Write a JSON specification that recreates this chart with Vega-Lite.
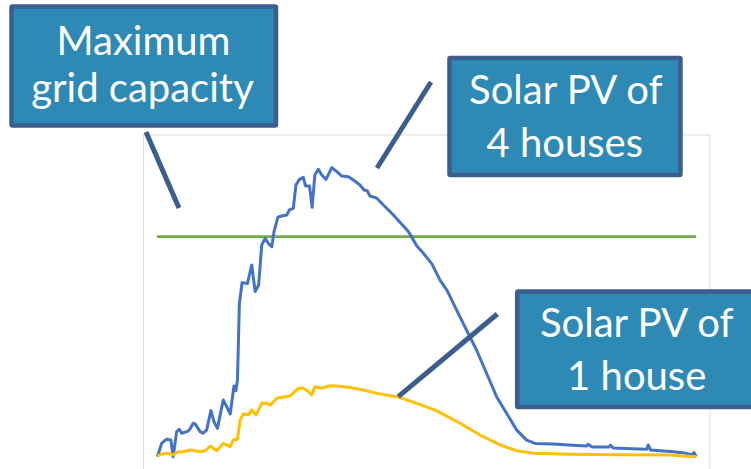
{
  "$schema": "https://vega.github.io/schema/vega-lite/v6.json",
  "width": 751,
  "height": 469,
  "autosize": {"type": "fit", "contains": "padding"},
  "padding": 0,
  "background": "white",
  "config": {"view": {"stroke": null}},
  "datasets": {
    "frame": [{"x": 5.649, "x2": 20.364, "y": 14.60, "y2": -1.5}],
    "capacity": [{"hour": 6.0, "hour2": 20.0, "kw": 10.0}],
    "pv": [
      {"series": "4 houses", "hour": 6.01, "kw": 0.06},
      {"series": "4 houses", "hour": 6.12, "kw": 0.66},
      {"series": "4 houses", "hour": 6.25, "kw": 0.85},
      {"series": "4 houses", "hour": 6.36, "kw": 0.81},
      {"series": "4 houses", "hour": 6.42, "kw": 0.06},
      {"series": "4 houses", "hour": 6.51, "kw": 1.19},
      {"series": "4 houses", "hour": 6.58, "kw": 1.30},
      {"series": "4 houses", "hour": 6.64, "kw": 1.12},
      {"series": "4 houses", "hour": 6.77, "kw": 1.19},
      {"series": "4 houses", "hour": 6.84, "kw": 1.27},
      {"series": "4 houses", "hour": 6.94, "kw": 1.57},
      {"series": "4 houses", "hour": 6.99, "kw": 1.54},
      {"series": "4 houses", "hour": 7.12, "kw": 1.19},
      {"series": "4 houses", "hour": 7.20, "kw": 1.12},
      {"series": "4 houses", "hour": 7.29, "kw": 1.27},
      {"series": "4 houses", "hour": 7.40, "kw": 2.14},
      {"series": "4 houses", "hour": 7.48, "kw": 1.64},
      {"series": "4 houses", "hour": 7.57, "kw": 1.34},
      {"series": "4 houses", "hour": 7.72, "kw": 2.62},
      {"series": "4 houses", "hour": 7.81, "kw": 2.32},
      {"series": "4 houses", "hour": 7.90, "kw": 1.99},
      {"series": "4 houses", "hour": 8.00, "kw": 3.25},
      {"series": "4 houses", "hour": 8.05, "kw": 3.04},
      {"series": "4 houses", "hour": 8.09, "kw": 3.53},
      {"series": "4 houses", "hour": 8.14, "kw": 6.99},
      {"series": "4 houses", "hour": 8.21, "kw": 7.92},
      {"series": "4 houses", "hour": 8.35, "kw": 7.89},
      {"series": "4 houses", "hour": 8.46, "kw": 8.72},
      {"series": "4 houses", "hour": 8.55, "kw": 7.52},
      {"series": "4 houses", "hour": 8.64, "kw": 7.82},
      {"series": "4 houses", "hour": 8.72, "kw": 9.63},
      {"series": "4 houses", "hour": 8.81, "kw": 9.93},
      {"series": "4 houses", "hour": 8.89, "kw": 9.70},
      {"series": "4 houses", "hour": 8.98, "kw": 9.55},
      {"series": "4 houses", "hour": 9.04, "kw": 10.23},
      {"series": "4 houses", "hour": 9.14, "kw": 10.88},
      {"series": "4 houses", "hour": 9.24, "kw": 10.94},
      {"series": "4 houses", "hour": 9.37, "kw": 10.98},
      {"series": "4 houses", "hour": 9.44, "kw": 11.21},
      {"series": "4 houses", "hour": 9.54, "kw": 11.28},
      {"series": "4 houses", "hour": 9.61, "kw": 12.34},
      {"series": "4 houses", "hour": 9.70, "kw": 12.59},
      {"series": "4 houses", "hour": 9.80, "kw": 12.68},
      {"series": "4 houses", "hour": 9.86, "kw": 12.29},
      {"series": "4 houses", "hour": 9.96, "kw": 12.29},
      {"series": "4 houses", "hour": 10.03, "kw": 11.33},
      {"series": "4 houses", "hour": 10.10, "kw": 12.79},
      {"series": "4 houses", "hour": 10.19, "kw": 13.05},
      {"series": "4 houses", "hour": 10.28, "kw": 12.79},
      {"series": "4 houses", "hour": 10.39, "kw": 12.59},
      {"series": "4 houses", "hour": 10.54, "kw": 13.12},
      {"series": "4 houses", "hour": 10.67, "kw": 12.94},
      {"series": "4 houses", "hour": 10.80, "kw": 12.74},
      {"series": "4 houses", "hour": 10.97, "kw": 12.71},
      {"series": "4 houses", "hour": 11.10, "kw": 12.56},
      {"series": "4 houses", "hour": 11.27, "kw": 12.34},
      {"series": "4 houses", "hour": 11.38, "kw": 12.11},
      {"series": "4 houses", "hour": 11.46, "kw": 12.08},
      {"series": "4 houses", "hour": 11.53, "kw": 11.84},
      {"series": "4 houses", "hour": 11.71, "kw": 11.74},
      {"series": "4 houses", "hour": 11.88, "kw": 11.43},
      {"series": "4 houses", "hour": 12.14, "kw": 10.98},
      {"series": "4 houses", "hour": 12.40, "kw": 10.48},
      {"series": "4 houses", "hour": 12.53, "kw": 10.23},
      {"series": "4 houses", "hour": 12.62, "kw": 9.97},
      {"series": "4 houses", "hour": 12.75, "kw": 9.58},
      {"series": "4 houses", "hour": 12.92, "kw": 9.25},
      {"series": "4 houses", "hour": 13.14, "kw": 8.77},
      {"series": "4 houses", "hour": 13.35, "kw": 8.04},
      {"series": "4 houses", "hour": 13.53, "kw": 7.59},
      {"series": "4 houses", "hour": 13.78, "kw": 6.69},
      {"series": "4 houses", "hour": 14.04, "kw": 5.78},
      {"series": "4 houses", "hour": 14.30, "kw": 4.88},
      {"series": "4 houses", "hour": 14.56, "kw": 3.83},
      {"series": "4 houses", "hour": 14.82, "kw": 2.77},
      {"series": "4 houses", "hour": 15.08, "kw": 2.02},
      {"series": "4 houses", "hour": 15.34, "kw": 1.27},
      {"series": "4 houses", "hour": 15.60, "kw": 0.81},
      {"series": "4 houses", "hour": 15.82, "kw": 0.66},
      {"series": "4 houses", "hour": 16.29, "kw": 0.63},
      {"series": "4 houses", "hour": 16.80, "kw": 0.58},
      {"series": "4 houses", "hour": 17.16, "kw": 0.54},
      {"series": "4 houses", "hour": 17.20, "kw": 0.62},
      {"series": "4 houses", "hour": 17.30, "kw": 0.50},
      {"series": "4 houses", "hour": 17.74, "kw": 0.50},
      {"series": "4 houses", "hour": 17.78, "kw": 0.58},
      {"series": "4 houses", "hour": 17.85, "kw": 0.45},
      {"series": "4 houses", "hour": 18.00, "kw": 0.44},
      {"series": "4 houses", "hour": 18.72, "kw": 0.39},
      {"series": "4 houses", "hour": 18.76, "kw": 0.59},
      {"series": "4 houses", "hour": 18.82, "kw": 0.36},
      {"series": "4 houses", "hour": 19.41, "kw": 0.28},
      {"series": "4 houses", "hour": 19.76, "kw": 0.21},
      {"series": "4 houses", "hour": 19.89, "kw": 0.14},
      {"series": "4 houses", "hour": 19.95, "kw": 0.24},
      {"series": "4 houses", "hour": 20.00, "kw": 0.06},
      {"series": "1 house", "hour": 6.01, "kw": 0.09},
      {"series": "1 house", "hour": 6.12, "kw": 0.18},
      {"series": "1 house", "hour": 6.29, "kw": 0.21},
      {"series": "1 house", "hour": 6.42, "kw": 0.14},
      {"series": "1 house", "hour": 6.55, "kw": 0.28},
      {"series": "1 house", "hour": 6.68, "kw": 0.28},
      {"series": "1 house", "hour": 6.86, "kw": 0.36},
      {"series": "1 house", "hour": 6.99, "kw": 0.33},
      {"series": "1 house", "hour": 7.12, "kw": 0.28},
      {"series": "1 house", "hour": 7.25, "kw": 0.33},
      {"series": "1 house", "hour": 7.39, "kw": 0.54},
      {"series": "1 house", "hour": 7.55, "kw": 0.33},
      {"series": "1 house", "hour": 7.72, "kw": 0.66},
      {"series": "1 house", "hour": 7.90, "kw": 0.51},
      {"series": "1 house", "hour": 7.98, "kw": 0.81},
      {"series": "1 house", "hour": 8.09, "kw": 0.85},
      {"series": "1 house", "hour": 8.16, "kw": 1.72},
      {"series": "1 house", "hour": 8.24, "kw": 1.99},
      {"series": "1 house", "hour": 8.39, "kw": 1.97},
      {"series": "1 house", "hour": 8.46, "kw": 2.17},
      {"series": "1 house", "hour": 8.57, "kw": 1.94},
      {"series": "1 house", "hour": 8.72, "kw": 2.47},
      {"series": "1 house", "hour": 8.85, "kw": 2.47},
      {"series": "1 house", "hour": 8.95, "kw": 2.39},
      {"series": "1 house", "hour": 9.11, "kw": 2.70},
      {"series": "1 house", "hour": 9.45, "kw": 2.80},
      {"series": "1 house", "hour": 9.67, "kw": 3.15},
      {"series": "1 house", "hour": 9.80, "kw": 3.15},
      {"series": "1 house", "hour": 9.93, "kw": 3.00},
      {"series": "1 house", "hour": 10.02, "kw": 2.85},
      {"series": "1 house", "hour": 10.10, "kw": 3.22},
      {"series": "1 house", "hour": 10.28, "kw": 3.15},
      {"series": "1 house", "hour": 10.49, "kw": 3.27},
      {"series": "1 house", "hour": 10.67, "kw": 3.25},
      {"series": "1 house", "hour": 11.01, "kw": 3.19},
      {"series": "1 house", "hour": 11.36, "kw": 3.07},
      {"series": "1 house", "hour": 11.71, "kw": 2.92},
      {"series": "1 house", "hour": 12.23, "kw": 2.77},
      {"series": "1 house", "hour": 12.75, "kw": 2.47},
      {"series": "1 house", "hour": 13.26, "kw": 2.14},
      {"series": "1 house", "hour": 13.87, "kw": 1.57},
      {"series": "1 house", "hour": 14.39, "kw": 1.04},
      {"series": "1 house", "hour": 14.91, "kw": 0.59},
      {"series": "1 house", "hour": 15.34, "kw": 0.33},
      {"series": "1 house", "hour": 15.77, "kw": 0.21},
      {"series": "1 house", "hour": 16.73, "kw": 0.17},
      {"series": "1 house", "hour": 18.00, "kw": 0.15},
      {"series": "1 house", "hour": 19.30, "kw": 0.14},
      {"series": "1 house", "hour": 20.00, "kw": 0.06}
    ],
    "pointers": [
      {"x": 5.714, "y": 14.731, "x2": 6.571, "y2": 11.297},
      {"x": 13.117, "y": 16.990, "x2": 11.714, "y2": 13.104},
      {"x": 14.839, "y": 6.507, "x2": 12.268, "y2": 2.770}
    ],
    "boxes": [
      {"x": 2.221, "x2": 9.091, "y": 20.402, "y2": 15.025},
      {"x": 13.597, "x2": 19.597, "y": 18.075, "y2": 12.788},
      {"x": 15.356, "x2": 21.662, "y": 7.524, "y2": 2.305}
    ],
    "labels": [
      {"label": "Maximum", "x": 5.649, "y": 18.21},
      {"label": "grid capacity", "x": 5.623, "y": 16.087},
      {"label": "Solar PV of", "x": 16.618, "y": 16.00},
      {"label": "4 houses", "x": 16.590, "y": 13.615},
      {"label": "Solar PV of", "x": 18.460, "y": 5.481},
      {"label": "1 house", "x": 18.460, "y": 3.073}
    ]
  },
  "layer": [
    {
      "data": {"name": "frame"},
      "mark": {"type": "rect", "fill": null, "stroke": "#d9d9d9", "strokeWidth": 1, "clip": true},
      "encoding": {
        "x": {"field": "x", "type": "quantitative", "scale": {"domain": [1.9221, 21.4286], "nice": false, "zero": false}, "axis": null},
        "x2": {"field": "x2"},
        "y": {"field": "y", "type": "quantitative", "scale": {"domain": [-0.4971, 20.6959], "nice": false, "zero": false}, "axis": null},
        "y2": {"field": "y2"}
      }
    },
    {
      "data": {"name": "capacity"},
      "mark": {"type": "rule", "color": "#70AD47", "strokeWidth": 2.75},
      "encoding": {
        "x": {"field": "hour", "type": "quantitative"},
        "x2": {"field": "hour2"},
        "y": {"field": "kw", "type": "quantitative"}
      }
    },
    {
      "data": {"name": "pv"},
      "mark": {"type": "line", "strokeWidth": 3, "strokeJoin": "round"},
      "encoding": {
        "x": {"field": "hour", "type": "quantitative"},
        "y": {"field": "kw", "type": "quantitative"},
        "color": {"field": "series", "type": "nominal", "scale": {"domain": ["1 house", "4 houses"], "range": ["#FFC000", "#4472C4"]}, "legend": null},
        "order": {"field": "hour", "type": "quantitative"}
      }
    },
    {
      "data": {"name": "pointers"},
      "mark": {"type": "rule", "color": "#3B5E8C", "strokeWidth": 5},
      "encoding": {
        "x": {"field": "x", "type": "quantitative"},
        "y": {"field": "y", "type": "quantitative"},
        "x2": {"field": "x2"},
        "y2": {"field": "y2"}
      }
    },
    {
      "data": {"name": "boxes"},
      "mark": {"type": "rect", "fill": "#2E8AB4", "stroke": "#3B5E8C", "strokeWidth": 4.5, "cornerRadius": 1, "clip": true},
      "encoding": {
        "x": {"field": "x", "type": "quantitative"},
        "x2": {"field": "x2"},
        "y": {"field": "y", "type": "quantitative"},
        "y2": {"field": "y2"}
      }
    },
    {
      "data": {"name": "labels"},
      "mark": {"type": "text", "color": "white", "font": "Lato", "fontSize": 40, "align": "center", "baseline": "alphabetic"},
      "encoding": {
        "x": {"field": "x", "type": "quantitative"},
        "y": {"field": "y", "type": "quantitative"},
        "text": {"field": "label"}
      }
    }
  ]
}
